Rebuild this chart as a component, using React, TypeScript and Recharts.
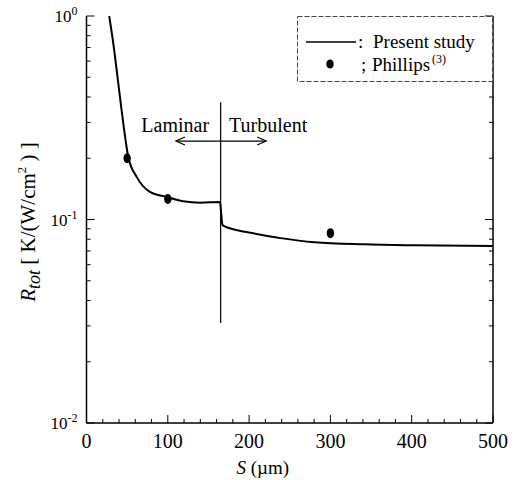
import { ComposedChart, Line, Scatter, XAxis, YAxis, ReferenceLine, Legend } from 'recharts'

// present study curve, S in um, R_tot in K/(W/cm^2)
const curveS = [27.9, 33.0, 39.1, 45.3, 51.4, 61.7, 78.1, 98.6, 118.7, 140, 164.2, 165.5, 167.3, 185.8, 198.2, 238.8, 280.6, 342, 403.5, 500]
const curveR = [1.0, 0.732, 0.466, 0.296, 0.203, 0.162, 0.1366, 0.129, 0.123, 0.121, 0.122, 0.109, 0.0938, 0.0886, 0.0866, 0.081, 0.0773, 0.0755, 0.0747, 0.0741]

// Phillips (3)
const phillipsS = [50, 100, 300]
const phillipsR = [0.2, 0.126, 0.0857]

// laminar / turbulent divider and arrow
const transitionS = 165
const dividerR = [0.377, 0.031]
const arrowS = [110, 221]
const arrowR = 0.243

const xTicks = [0, 20, 40, 60, 80, 100, 120, 140, 160, 180, 200, 220, 240, 260, 280, 300, 320, 340, 360, 380, 400, 420, 440, 460, 480, 500]
const yTicks = [0.01, 0.02, 0.03, 0.04, 0.05, 0.06, 0.07, 0.08, 0.09, 0.1, 0.2, 0.3, 0.4, 0.5, 0.6, 0.7, 0.8, 0.9, 1]
const yMajor: Record<string, string> = { '0.01': '-2', '0.1': '-1', '1': '0' }

const curve = curveS.map((s, i) => ({ s, r: curveR[i] }))
const phillips = phillipsS.map((s, i) => ({ s, r: phillipsR[i] }))

const FONT = '"Liberation Serif", "Times New Roman", serif'

function BottomTick({ x, y, payload }: any) {
  const major = payload.value % 100 === 0
  return (
    <g>
      <line x1={x} x2={x} y1={y} y2={y - (major ? 8 : 4)} stroke="#000" strokeWidth={1} />
      {major && (
        <text x={x} y={y + 25} textAnchor="middle" fontSize={20} fontFamily={FONT} fill="#000">
          {payload.value}
        </text>
      )}
    </g>
  )
}

function TopTick({ x, y, payload }: any) {
  const major = payload.value % 100 === 0
  return <line x1={x} x2={x} y1={y} y2={y + (major ? 8 : 4)} stroke="#000" strokeWidth={1} />
}

function LeftTick({ x, y, payload }: any) {
  const exp = yMajor[String(payload.value)]
  return (
    <g>
      <line x1={x} x2={x + (exp ? 8 : 4)} y1={y} y2={y} stroke="#000" strokeWidth={1} />
      {exp && (
        <text x={x - 9} y={y + 6} textAnchor="end" fontSize={17} fontFamily={FONT} fill="#000">
          10<tspan dy={-7} fontSize={12}>{exp}</tspan>
        </text>
      )}
    </g>
  )
}

function RightTick({ x, y, payload }: any) {
  const major = yMajor[String(payload.value)]
  return <line x1={x} x2={x - (major ? 8 : 4)} y1={y} y2={y} stroke="#000" strokeWidth={1} />
}

function ArrowShape(props: any) {
  const { x1, x2, y1 } = props
  const cx = (x1 + x2) / 2
  return (
    <g>
      <line x1={x1} x2={x2} y1={y1} y2={y1} stroke="#000" strokeWidth={1.2} />
      <path d={`M${x1 + 9},${y1 - 4} L${x1},${y1} L${x1 + 9},${y1 + 4}`} fill="none" stroke="#000" strokeWidth={1.2} />
      <path d={`M${x2 - 9},${y1 - 4} L${x2},${y1} L${x2 - 9},${y1 + 4}`} fill="none" stroke="#000" strokeWidth={1.2} />
      <text x={cx - 12} y={y1 - 9} textAnchor="end" fontSize={20} fontFamily={FONT} fill="#000">Laminar</text>
      <text x={cx + 8} y={y1 - 9} textAnchor="start" fontSize={20} fontFamily={FONT} fill="#000">Turbulent</text>
    </g>
  )
}

function LegendBox() {
  return (
    <svg width={196} height={66} style={{ display: 'block' }}>
      <rect x={0.5} y={0.5} width={195} height={65} fill="#fff" stroke="#444" strokeWidth={1} strokeDasharray="5 2" />
      <line x1={9} x2={59} y1={26} y2={26} stroke="#000" strokeWidth={1.5} />
      <text x={61} y={32} fontSize={19} fontFamily={FONT} fill="#000">:</text>
      <text x={76} y={32} fontSize={19} fontFamily={FONT} fill="#000">Present study</text>
      <ellipse cx={33} cy={48} rx={3.7} ry={4.6} fill="#000" />
      <text x={64} y={55} fontSize={19} fontFamily={FONT} fill="#000">;</text>
      <text x={75} y={55} fontSize={19} fontFamily={FONT} fill="#000">Phillips</text>
      <text x={135} y={47} fontSize={12} fontFamily={FONT} fill="#000">(3)</text>
    </svg>
  )
}

function XTitle({ viewBox }: any) {
  const cx = viewBox.x + viewBox.width / 2 - 27
  return (
    <text x={cx} y={474} textAnchor="middle" fontSize={19} fontFamily={FONT} fill="#000">
      <tspan fontStyle="italic">S</tspan>
      <tspan>{'  (\u00b5m)'}</tspan>
    </text>
  )
}

function YTitle() {
  return (
    <text transform="translate(35, 222) rotate(-90)" textAnchor="middle" fontSize={21} fontFamily={FONT} fill="#000">
      <tspan fontStyle="italic">R</tspan>
      <tspan fontStyle="italic" fontSize={18} dy={5}>tot</tspan>
      <tspan dy={-5}>{' [ K/(W/cm'}</tspan>
      <tspan dy={-9} fontSize={13}>2</tspan>
      <tspan dy={9}>{' ) ]'}</tspan>
    </text>
  )
}

export default function App() {
  return (
    <div style={{ position: 'absolute', left: 0, top: 0, background: '#fff' }}>
      <ComposedChart width={514} height={480} margin={{ top: 16, right: 0, bottom: 0, left: 0 }}>
        <XAxis xAxisId="b" type="number" dataKey="s" domain={[0, 500]} ticks={xTicks} interval={0}
          height={57} tickSize={0} tickMargin={0} tick={<BottomTick />} axisLine={{ stroke: '#000', strokeWidth: 1.5 }}
          label={<XTitle />} />
        <XAxis xAxisId="t" orientation="top" type="number" dataKey="s" domain={[0, 500]} ticks={xTicks} interval={0}
          height={0} tickSize={0} tickMargin={0} tick={<TopTick />} axisLine={{ stroke: '#000', strokeWidth: 1.5 }} />
        <YAxis yAxisId="l" type="number" dataKey="r" scale="log" domain={[0.01, 1]} allowDataOverflow ticks={yTicks} interval={0}
          width={86.5} tickSize={0} tickMargin={0} tick={<LeftTick />} axisLine={{ stroke: '#000', strokeWidth: 1.5 }}
          label={<YTitle />} />
        <YAxis yAxisId="r" orientation="right" type="number" dataKey="r" scale="log" domain={[0.01, 1]} allowDataOverflow ticks={yTicks} interval={0}
          width={21} tickSize={0} tickMargin={0} tick={<RightTick />} axisLine={{ stroke: '#000', strokeWidth: 1.5 }} />
        <ReferenceLine xAxisId="b" yAxisId="l"
          segment={[{ x: transitionS, y: dividerR[0] }, { x: transitionS, y: dividerR[1] }]}
          stroke="#000" strokeWidth={1.2} />
        <ReferenceLine xAxisId="b" yAxisId="l"
          segment={[{ x: arrowS[0], y: arrowR }, { x: arrowS[1], y: arrowR }]}
          shape={ArrowShape} />
        <Line xAxisId="b" yAxisId="l" data={curve} dataKey="r" type="monotone" stroke="#000" strokeWidth={2}
          dot={false} isAnimationActive={false} name="Present study" />
        <Scatter xAxisId="b" yAxisId="l" data={phillips} dataKey="r" fill="#000" isAnimationActive={false} name="Phillips"
          shape={(p: any) => <ellipse cx={p.cx} cy={p.cy} rx={3.7} ry={5} fill="#000" />} />
        <Legend content={<LegendBox />} layout="horizontal" verticalAlign="middle" align="center"
          wrapperStyle={{ position: 'absolute', left: 297, top: 16, width: 196, height: 66 }} />
      </ComposedChart>
    </div>
  )
}
